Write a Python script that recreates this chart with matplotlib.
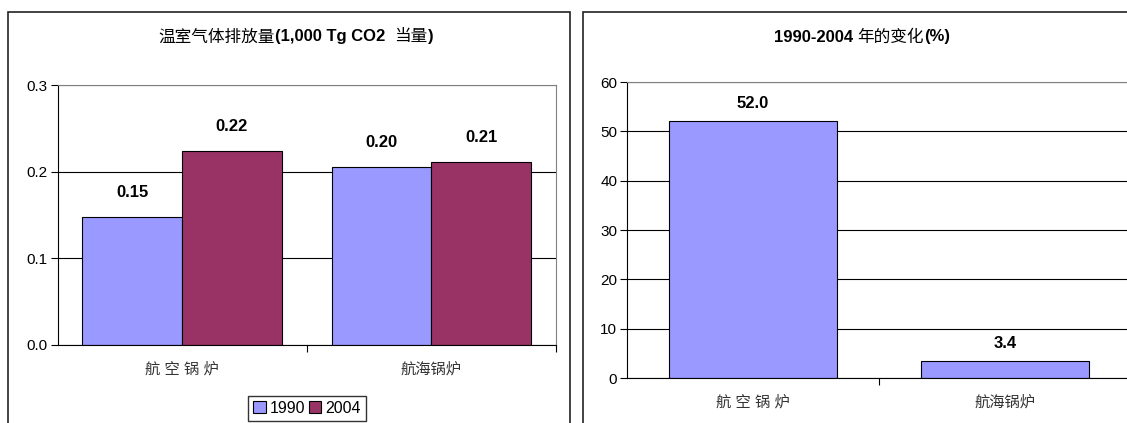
import numpy as np
import matplotlib
matplotlib.use("Agg")
import matplotlib.pyplot as plt
from matplotlib.patches import Rectangle, Patch

plt.rcParams['font.family'] = ['Liberation Sans', 'Noto Sans CJK SC']

# ---- data ----
categories_left = ["航 空 锅 炉", "航海锅炉"]
categories_right = ["航 空 锅 炉", "航海锅炉"]
years = ["1990", "2004"]
emis_1990 = [0.148, 0.2055]
emis_2004 = [0.2235, 0.211]
labels_1990 = ["0.15", "0.20"]
labels_2004 = ["0.22", "0.21"]
change_pct = [52.0, 3.4]

C1990 = "#9999FF"
C2004 = "#993366"

W, H = 1127, 423
fig = plt.figure(figsize=(W / 100, H / 100), dpi=100)

def fx(px):
    return px / W

def fy(py):
    return 1 - py / H

# outer chart frames
fig.patches.append(Rectangle((fx(8), fy(440)), fx(570 - 8), fy(12) - fy(440),
                             transform=fig.transFigure, fill=False,
                             edgecolor="#222222", lw=1.2))
fig.patches.append(Rectangle((fx(583), fy(440)), fx(1160 - 583), fy(12) - fy(440),
                             transform=fig.transFigure, fill=False,
                             edgecolor="#222222", lw=1.2))


def style_axes(ax):
    for s in ["top", "right"]:
        ax.spines[s].set_color("#808080")
    for s in ["left", "bottom"]:
        ax.spines[s].set_color("black")
    ax.yaxis.grid(True, color="black", lw=0.8)
    ax.set_axisbelow(True)
    ax.tick_params(axis="y", length=5, pad=2, labelsize=11, width=0.8)
    ax.tick_params(axis="x", which="major", length=0, pad=12, labelsize=11,
                   labelcolor="#333333")
    ax.tick_params(axis="x", which="minor", length=5, width=0.8)


def mixed_title(x_center, y, segments, size=12):
    # draw text segments side by side (bold latin, regular CJK)
    r = fig.canvas.get_renderer()
    texts = []
    for s, w in segments:
        t = fig.text(0, y, s, fontsize=size, fontweight=w, va="center", ha="left")
        texts.append(t)
    widths = [t.get_window_extent(r).width for t in texts]
    total = sum(widths)
    x = x_center * W - total / 2
    for t, w in zip(texts, widths):
        t.set_x(x / W)
        x += w


# ---- left chart ----
axL = fig.add_axes([fx(57.5), fy(345), fx(556 - 57.5), fy(85) - fy(345)])
x = np.arange(len(categories_left))
bw = 0.4
b1 = axL.bar(x - bw / 2, emis_1990, bw, color=C1990, edgecolor="black", lw=0.8)
b2 = axL.bar(x + bw / 2, emis_2004, bw, color=C2004, edgecolor="black", lw=0.8)
for bars, labs in [(b1, labels_1990), (b2, labels_2004)]:
    for b, lab in zip(bars, labs):
        axL.annotate(lab, (b.get_x() + b.get_width() / 2, b.get_height()),
                     xytext=(0, 17.5), textcoords="offset points",
                     ha="center", va="center", fontsize=12, fontweight="bold")
axL.set_xlim(-0.5, 1.5)
axL.set_ylim(0, 0.3)
axL.set_yticks([0.0, 0.1, 0.2, 0.3])
axL.set_yticklabels(["0.0", "0.1", "0.2", "0.3"])
axL.set_xticks(x)
axL.set_xticklabels(categories_left)
axL.set_xticks([0.5, 1.5], minor=True)
style_axes(axL)

fig.legend(handles=[Patch(facecolor=C1990, edgecolor="black", lw=0.8),
                    Patch(facecolor=C2004, edgecolor="black", lw=0.8)],
           labels=years, loc="upper center", bbox_to_anchor=(fx(307), fy(396)),
           ncol=2, frameon=True, fancybox=False, edgecolor="black",
           fontsize=11.5, handlelength=0.8, handleheight=0.8, handletextpad=0.25,
           columnspacing=0.2, borderpad=0.3, borderaxespad=0)

mixed_title(fx(296), fy(37), [("温室气体排放量", "normal"),
                              ("(1,000 Tg CO2  ", "bold"),
                              ("当量", "normal"),
                              (")", "bold")])

# ---- right chart ----
axR = fig.add_axes([fx(627), fy(378), fx(1131 - 627), fy(82) - fy(378)])
xr = np.arange(len(categories_right))
bars = axR.bar(xr, change_pct, 0.667, color=C1990, edgecolor="black", lw=0.8)
for b, v in zip(bars, change_pct):
    axR.annotate(f"{v:.1f}", (b.get_x() + b.get_width() / 2, v),
                 xytext=(0, 13), textcoords="offset points",
                 ha="center", va="center", fontsize=12, fontweight="bold")
axR.set_xlim(-0.5, 1.5)
axR.set_ylim(0, 60)
axR.set_yticks(np.arange(0, 61, 10))
axR.set_xticks(xr)
axR.set_xticklabels(categories_right)
axR.set_xticks([0.5, 1.5], minor=True)
style_axes(axR)

mixed_title(fx(862), fy(37), [("1990-2004 ", "bold"),
                              ("年的变化", "normal"),
                              ("(%)", "bold")])

fig.savefig("out.png", dpi=100)
